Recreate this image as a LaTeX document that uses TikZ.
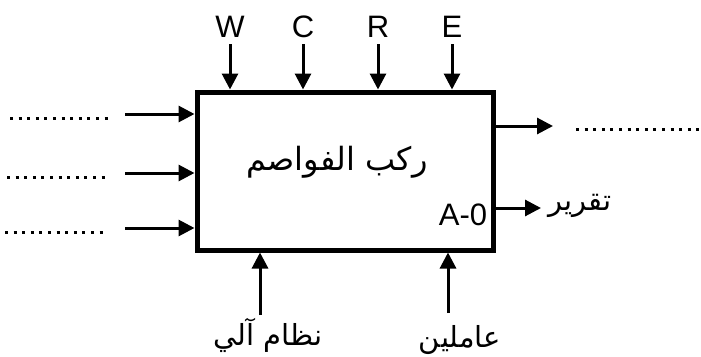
\documentclass[tikz,border=0pt]{standalone}
\usepackage{fontspec}
\setmainfont{Liberation Sans}
\newfontfamily\arabicfont[Script=Arabic]{DejaVu Sans}
\TeXXeTstate=1
\usetikzlibrary{arrows.meta}
\tikzset{
  arr/.style={line width=3pt,-{Triangle[length=16pt,width=16pt]}},
  dots/.style={line width=3pt,dash pattern=on 3pt off 5.6pt},
  lat/.style={font=\fontsize{31}{34}\selectfont,inner sep=0pt},
  arab/.style={font=\arabicfont\fontsize{29}{32}\selectfont,inner sep=0pt},
}
\begin{document}
\begin{tikzpicture}[x=1pt,y=-1pt]
\useasboundingbox[fill=white] (0,0) rectangle (701,356);
\node[draw,line width=5pt,minimum width=296pt,minimum height=158pt,inner sep=0pt] (box) at (345,171) {};
\node[arab,font=\arabicfont\fontsize{32}{36}\selectfont] (title) at (337,162) {\beginR ركب الفواصم\endR};
\node[lat] (a0) at (463,215) {A-0};
% top controls
\node[lat] (W) at (230,27) {W};
\node[lat] (C) at (303,27) {C};
\node[lat] (R) at (378,27) {R};
\node[lat] (E) at (452,27) {E};
\coordinate (wW) at (230,44);
\coordinate (wC) at (303,44);
\coordinate (wR) at (378,44);
\coordinate (wE) at (452,44);
\foreach \n in {W,C,R,E} \draw[arr] (w\n) -- (w\n |- box.north);
% left inputs
\foreach \i/\y/\a/\b in {1/114/10/110,2/173/7/107,3/228/5/103}{
  \coordinate (in\i) at (125,\y);
  \coordinate (da\i) at (\a,\y+4);
  \coordinate (db\i) at (\b,\y+4);
  \draw[arr] (in\i) -- (in\i -| box.west);
  \draw[dots] (da\i) -- (db\i);
}
% right outputs
\coordinate (o1) at (553,126);
\draw[arr] (o1 -| box.east) -- (o1);
\coordinate (d1) at (576,129);
\coordinate (d2) at (701,129);
\draw[dots] (d1) -- (d2);
\coordinate (o2) at (541,208);
\draw[arr] (o2 -| box.east) -- (o2);
\node[arab] (rep) at (580,206) {\beginR تقرير\endR};
% bottom mechanisms
\node[arab] (m1) at (268,335) {\beginR نظام آلي\endR};
\node[arab] (m2) at (460,340) {\beginR عاملين\endR};
\coordinate (b1) at (260,315);
\coordinate (b2) at (448,313);
\draw[arr] (b1) -- (b1 |- box.south);
\draw[arr] (b2) -- (b2 |- box.south);
\end{tikzpicture}
\end{document}
